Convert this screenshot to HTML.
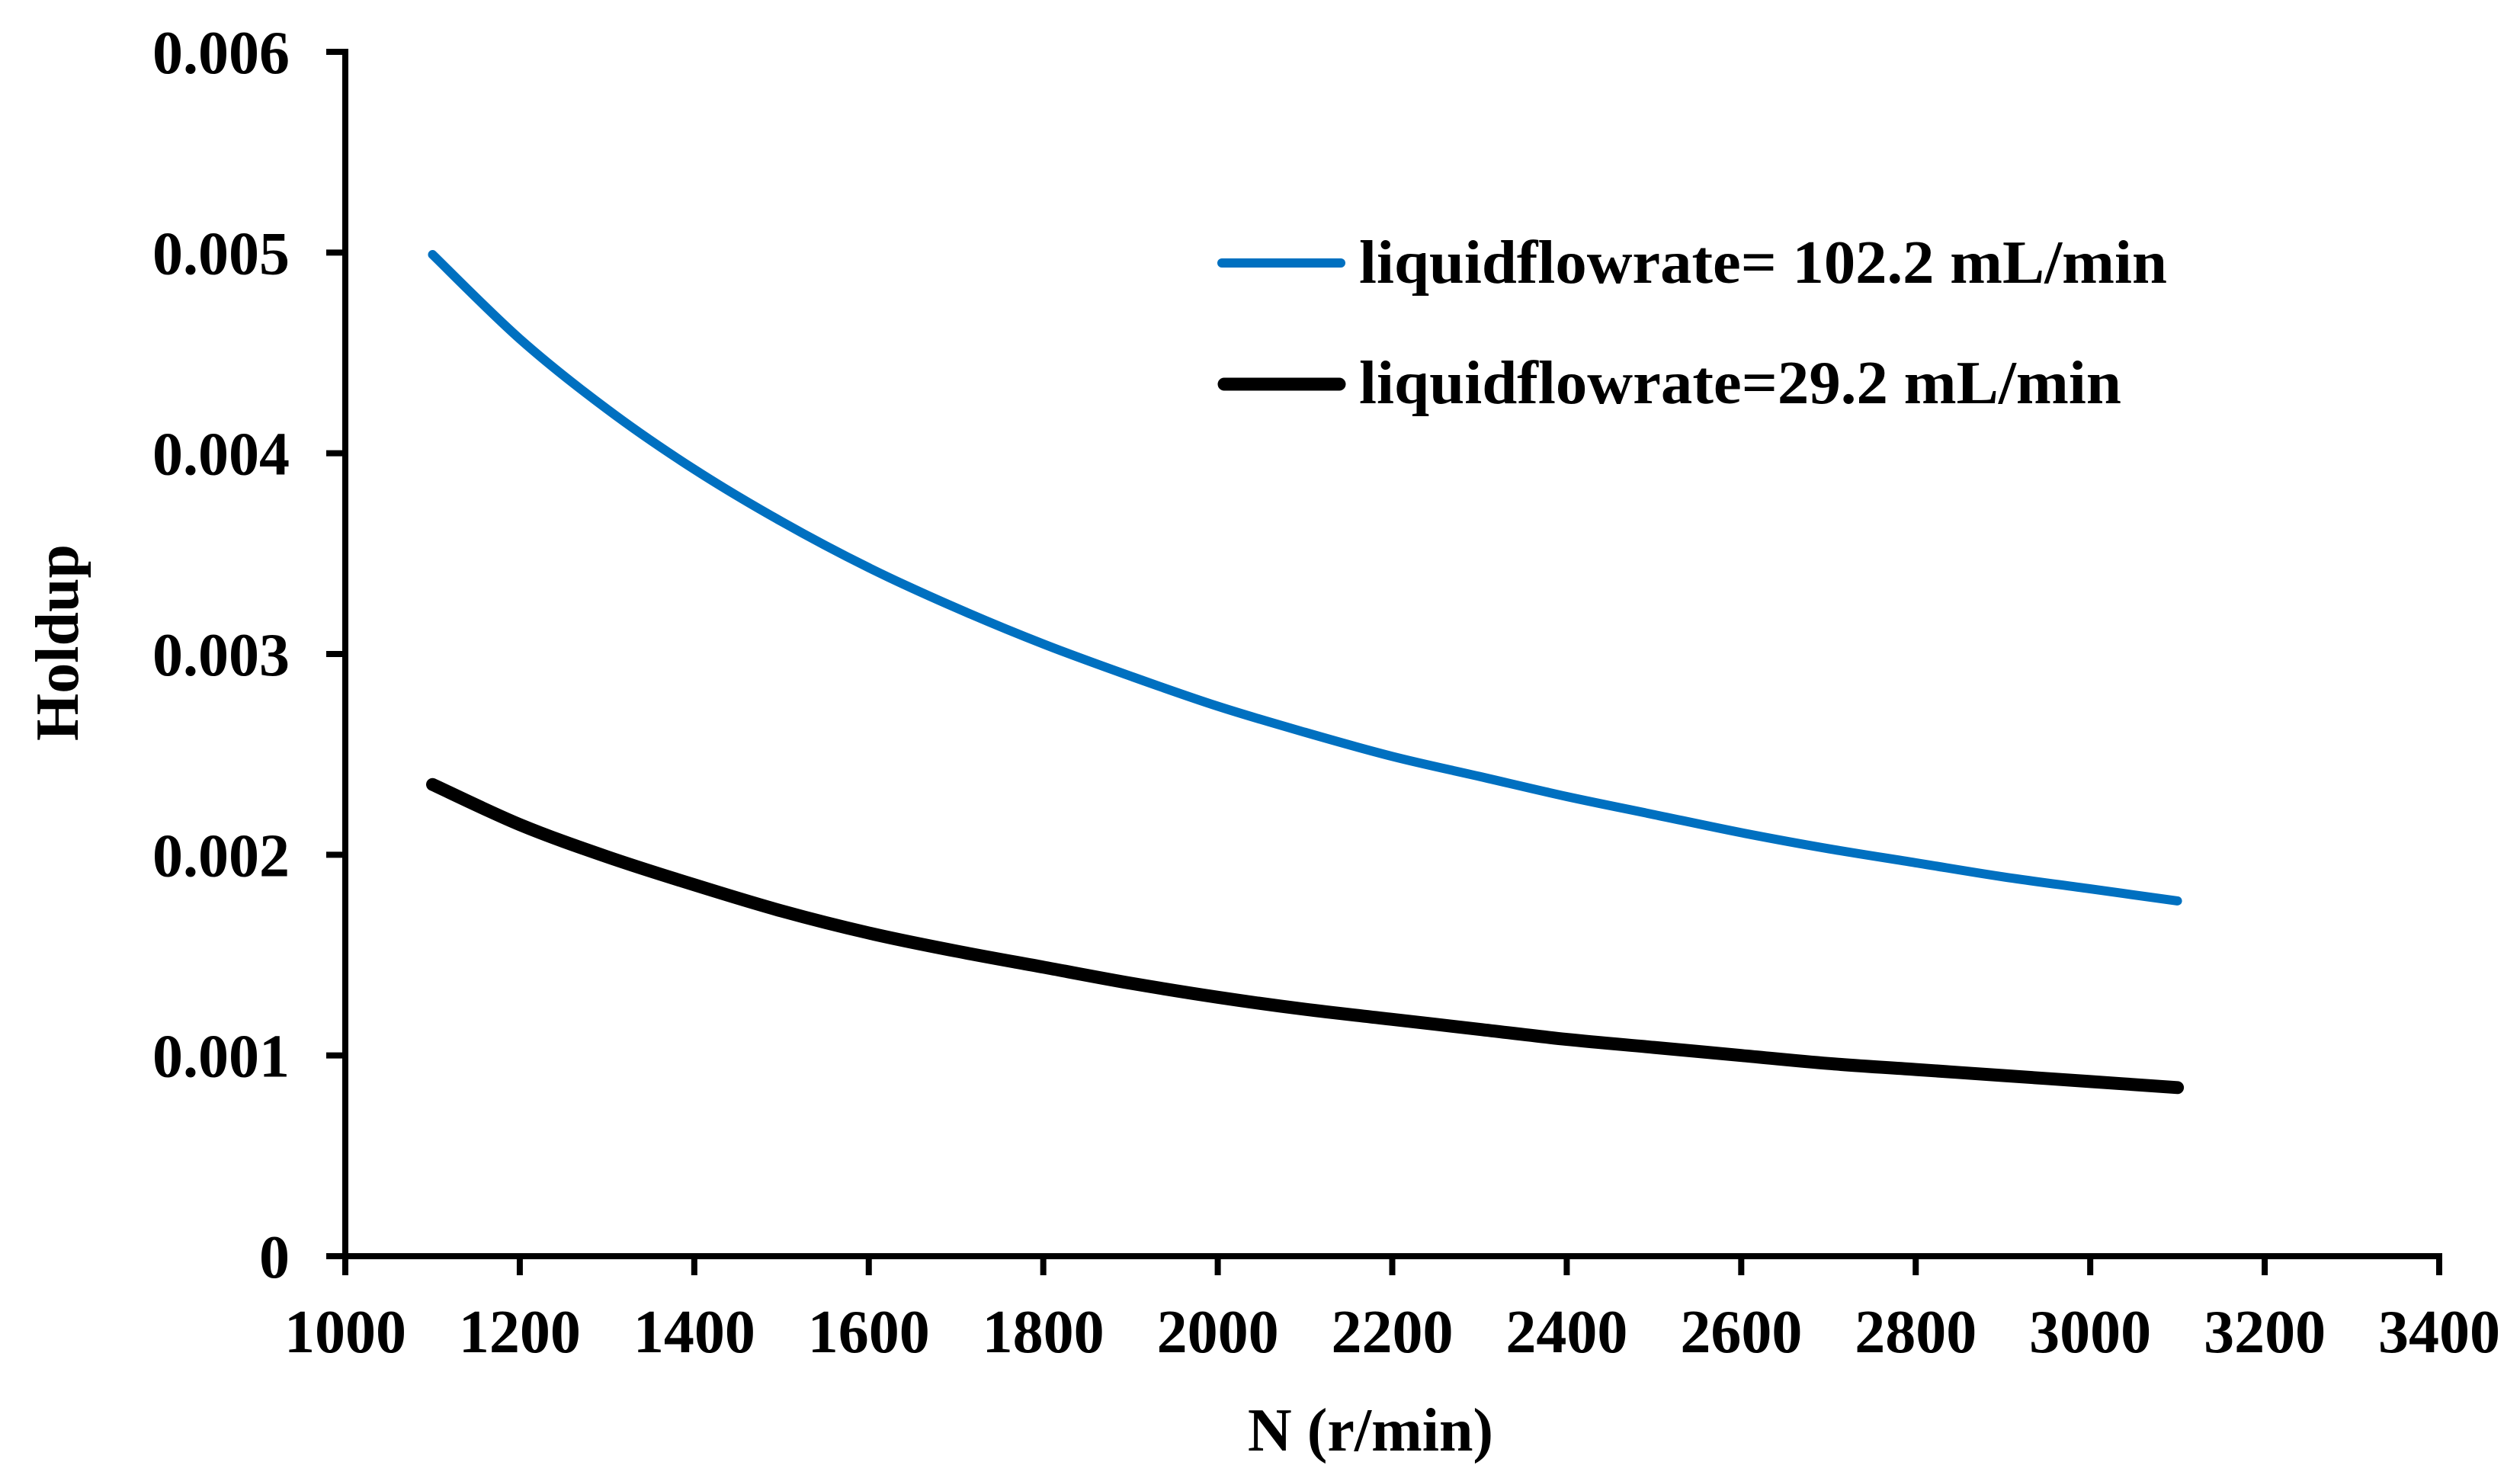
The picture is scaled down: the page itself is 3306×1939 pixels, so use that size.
<!DOCTYPE html>
<html><head><meta charset="utf-8"><style>
html,body{margin:0;padding:0;background:#fff;}
svg{display:block;font-family:"Liberation Serif","Times New Roman",serif;font-weight:bold;}
</style></head><body>
<svg id="chart" width="3306" height="1939" viewBox="0 0 3306 1939" xmlns="http://www.w3.org/2000/svg">
<rect width="3306" height="1939" fill="#fff"/>
<g id="axes"></g>
<g id="series"></g>
<text x="0" y="0" font-size="80" text-anchor="middle" transform="translate(74,843) rotate(-90)" dy="28">Holdup</text>
<text x="1798" y="1903" font-size="80" text-anchor="middle">N (r/min)</text>
<g>
<line x1="1603" y1="345" x2="1759" y2="345" stroke="#0070C0" stroke-width="12" stroke-linecap="round"/>
<text x="1783" y="371" font-size="80" textLength="1060" lengthAdjust="spacingAndGlyphs">liquidflowrate= 102.2 mL/min</text>
<line x1="1606" y1="504" x2="1757" y2="504" stroke="#000" stroke-width="17" stroke-linecap="round"/>
<text x="1783" y="529" font-size="80" textLength="1000" lengthAdjust="spacingAndGlyphs">liquidflowrate=29.2 mL/min</text>
</g>
</svg>
<script>
const xTicks = [1000,1200,1400,1600,1800,2000,2200,2400,2600,2800,3000,3200,3400];
const yTicks = [0,0.001,0.002,0.003,0.004,0.005,0.006];
const yTickLabels = ["0","0.001","0.002","0.003","0.004","0.005","0.006"];
const speeds = [1100,1200,1300,1400,1500,1600,1700,1800,1900,2000,2100,2200,2300,2400,2500,2600,2700,2800,2900,3000,3100];
const holdup102 = [0.00499,0.00457,0.00422,0.00392,0.00366,0.00343,0.00323,0.00305,0.00289,0.00274,0.00261,0.00249,0.00239,0.00229,0.00220,0.00211,0.00203,0.00196,0.00189,0.00183,0.00177];
const holdup29 = [0.00235,0.00215,0.00199,0.00185,0.00172,0.00161,0.00152,0.00144,0.00136,0.00129,0.00123,0.00118,0.00113,0.00108,0.00104,0.00100,0.00096,0.00093,0.00090,0.00087,0.00084];

const NS='http://www.w3.org/2000/svg';
const X0=453, X1=3200, Y0=1648, Y1=68;
function sx(v){return X0+(v-1000)/(3400-1000)*(X1-X0);}
function sy(v){return Y0-(v-0)/(0.006-0)*(Y0-Y1);}
function mk(tag,attrs,parent){const e=document.createElementNS(NS,tag);for(const k in attrs)e.setAttribute(k,attrs[k]);parent.appendChild(e);return e;}
const axes=document.getElementById('axes');
let e;
e=mk('line',{x1:X0,y1:Y1-4,x2:X0,y2:Y0+4,stroke:'#000','stroke-width':8},axes);


e=mk('line',{x1:X0-4,y1:Y0,x2:X1+4,y2:Y0,stroke:'#000','stroke-width':8},axes);


yTicks.forEach((v,i)=>{
  const y=sy(v);
  let t=mk('line',{x1:X0-25,y1:y,x2:X0,y2:y,stroke:'#000','stroke-width':8},axes);
  
  
  let l=mk('text',{x:380,y:y+28,'font-size':80,'text-anchor':'end'},axes);
  l.textContent=yTickLabels[i];
  
  
});
xTicks.forEach(v=>{
  const x=sx(v);
  let t=mk('line',{x1:x,y1:Y0,x2:x,y2:Y0+25,stroke:'#000','stroke-width':8},axes);
  
  
  let l=mk('text',{x:x,y:1774,'font-size':80,'text-anchor':'middle'},axes);
  l.textContent=String(v);
  
  
});
const series=document.getElementById('series');
function smoothPath(arr){
  const p=speeds.map((s,i)=>[sx(s),sy(arr[i])]);
  let d='M'+p[0][0].toFixed(1)+','+p[0][1].toFixed(1);
  for(let i=0;i<p.length-1;i++){
    const p0=p[Math.max(0,i-1)],p1=p[i],p2=p[i+1],p3=p[Math.min(p.length-1,i+2)];
    const c1x=p1[0]+(p2[0]-p0[0])/6,c1y=p1[1]+(p2[1]-p0[1])/6;
    const c2x=p2[0]-(p3[0]-p1[0])/6,c2y=p2[1]-(p3[1]-p1[1])/6;
    d+=' C'+c1x.toFixed(1)+','+c1y.toFixed(1)+' '+c2x.toFixed(1)+','+c2y.toFixed(1)+' '+p2[0].toFixed(1)+','+p2[1].toFixed(1);
  }
  return d;
}
let p1=mk('path',{d:smoothPath(holdup102),fill:'none',stroke:'#0070C0','stroke-width':12,'stroke-linecap':'round','stroke-linejoin':'round'},series);


let p2=mk('path',{d:smoothPath(holdup29),fill:'none',stroke:'#000','stroke-width':17,'stroke-linecap':'round','stroke-linejoin':'round'},series);


</script>
</body></html>
